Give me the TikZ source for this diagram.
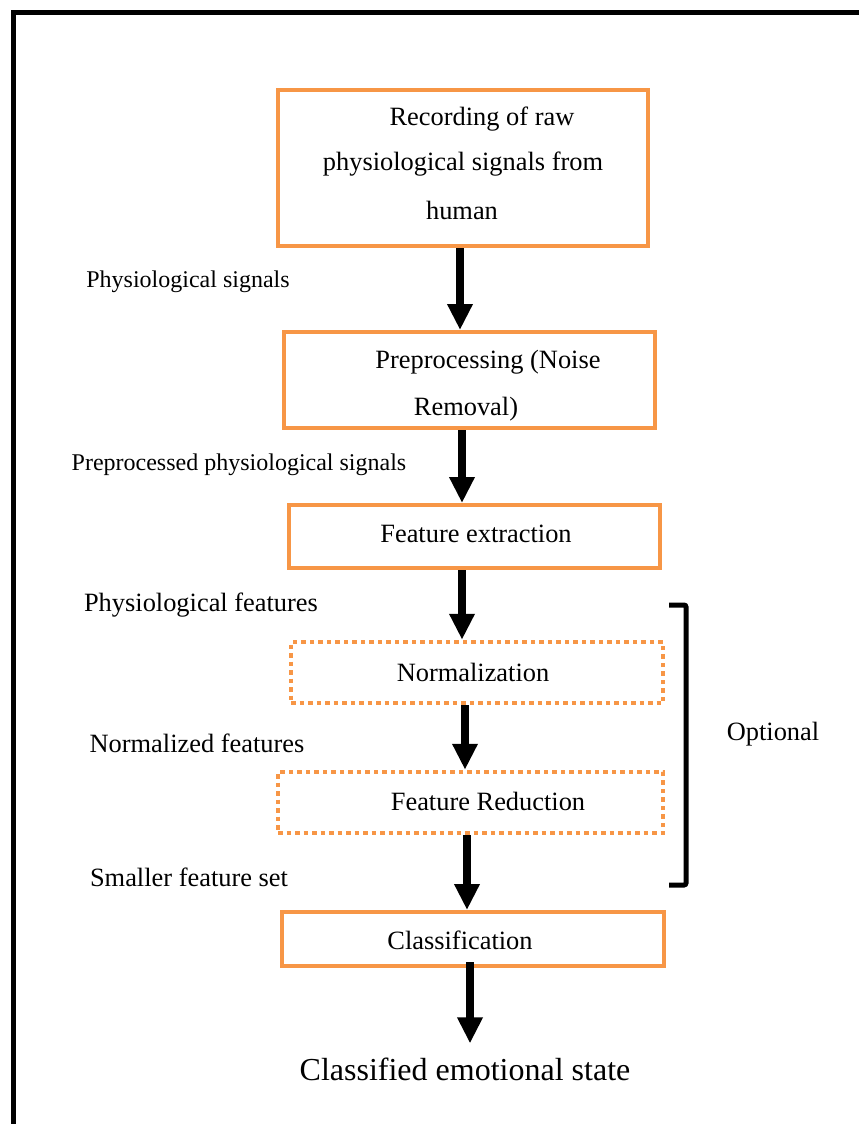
\documentclass[tikz,border=0pt]{standalone}
\usepackage{fontspec}
\setmainfont{Liberation Serif}
\usetikzlibrary{arrows.meta}
\definecolor{accent}{HTML}{F79646}
\begin{document}
\begin{tikzpicture}[x=1pt,y=-1pt,
  stage/.style={draw=accent,line width=4pt,inner sep=0pt},
  optstage/.style={stage,line width=4.5pt,dash pattern=on 4.5pt off 4pt},
  flow/.style={line width=8pt,-{Triangle[width=24pt,length=26pt]}},
  lbl/.style={font=\fontsize{26.4}{30}\selectfont,inner sep=0pt,yshift=-2pt},
  smalllbl/.style={font=\fontsize{24}{28}\selectfont,inner sep=0pt,yshift=-2pt},
  biglbl/.style={font=\fontsize{32}{36}\selectfont,inner sep=0pt}]
\useasboundingbox (0,0) rectangle (859,1124);
% outer frame (only top and left edges fall inside the page)
\draw[line width=5pt] (13,1140) -- (13,13) -- (880,13);

% stage boxes
\node[stage,minimum width=370pt,minimum height=156pt] (b1) at (463,168) {};
\node[stage,minimum width=371pt,minimum height=96pt] (b2) at (469.5,380) {};
\node[stage,minimum width=371pt,minimum height=63pt] (b3) at (474.5,536.5) {};
\node[optstage,minimum width=372pt,minimum height=61pt] (b4) at (477,672.5) {};
\node[optstage,minimum width=385pt,minimum height=61pt] (b5) at (470.5,802.5) {};
\node[stage,minimum width=382pt,minimum height=54pt] (b6) at (473,939) {};

% box texts
\node[lbl] (t1a) at (482,117) {Recording of raw};
\node[lbl] (t1b) at (463,162) {physiological signals from};
\node[lbl] (t1c) at (462,208) {human};
\node[lbl] (t2a) at (488,360) {Preprocessing (Noise};
\node[lbl] (t2b) at (466,407) {Removal)};
\node[lbl] (t3) at (476,532) {Feature extraction};
\node[lbl] (t4) at (473,670) {Normalization};
\node[lbl] (t5) at (488,799) {Feature Reduction};
\node[lbl] (t6) at (460,938) {Classification};
\node[biglbl] (t7) at (465,1069) {Classified emotional state};

% data labels beside the arrows
\node[smalllbl] (l1) at (188,280) {Physiological signals};
\node[smalllbl] (l2) at (239,463) {Preprocessed physiological signals};
\node[lbl] (l3) at (201,603) {Physiological features};
\node[lbl] (l4) at (197,741) {Normalized features};
\node[lbl] (l5) at (189,875) {Smaller feature set};
\node[lbl] (opt) at (773,732) {Optional};

% arrow columns
\coordinate (c1) at (460,0);
\coordinate (c2) at (462,0);
\coordinate (c3) at (462,0);
\coordinate (c4) at (465,0);
\coordinate (c5) at (467,0);
\coordinate (c6) at (470,0);

\draw[flow] (b1.south -| c1) -- (b2.north -| c1);
\draw[flow] (b2.south -| c2) -- (b3.north -| c2);
\draw[flow] (b3.south -| c3) -- (b4.north -| c3);
\draw[flow] (b4.south -| c4) -- (b5.north -| c4);
\draw[flow] (b5.south -| c5) -- (b6.north -| c5);
\draw[flow,shorten >=14pt] ([yshift=6pt]b6.south -| c6) -- (t7.north -| c6);

% bracket marking the optional stages
\coordinate (brt) at (669,605);
\coordinate (brb) at (669,885);
\draw[line width=5pt,rounded corners=2pt] (brt) -- ++(17,0) |- (brb);
\end{tikzpicture}
\end{document}
